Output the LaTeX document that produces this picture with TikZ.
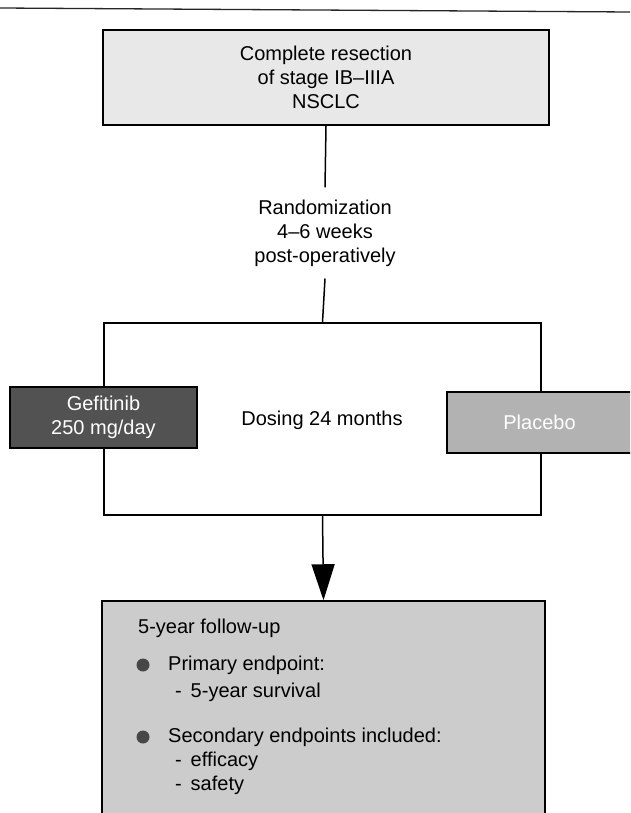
\documentclass[tikz,border=0pt]{standalone}
\usepackage{fontspec}
\setmainfont{Liberation Sans}
\usetikzlibrary{arrows.meta}
\tikzset{
  txt/.style={font=\fontsize{20}{24}\selectfont, inner sep=2pt},
  framebox/.style={draw=black, line width=1.5pt, inner sep=0pt},
  conn/.style={draw=black, line width=1.5pt},
  bul/.style={circle, fill=black!72, inner sep=0pt, minimum size=13pt}
}
\begin{document}
\begin{tikzpicture}[x=1pt,y=-1pt]
\useasboundingbox (0,0) rectangle (630,813);
\clip (0,0) rectangle (630,813);
% top rule
\coordinate (r1) at (0,8);
\coordinate (r2) at (630,12);
\draw[line width=1.3pt, black!85] (r1) -- (r2);
% top box
\node[framebox, fill=black!9, minimum width=446pt, minimum height=95pt, txt, align=center] (top) at (326,77.5)
  {Complete resection\\of stage IB--IIIA\\NSCLC};
% randomization
\node[txt, align=center, inner xsep=4pt, inner ysep=12pt] (rand) at (325,233)
  {Randomization\\4--6 weeks\\post-operatively};
% big box
\node[framebox, minimum width=437pt, minimum height=192pt] (big) at (322.5,419) {};
\node[txt] (dose) at (322,420) {Dosing 24 months};
% arms
\node[framebox, fill=black!68, text=white, minimum width=187pt, minimum height=61pt, txt, align=center] (gef) at (103.5,417.5)
  {Gefitinib\\250 mg/day};
\node[framebox, fill=black!30, text=white, minimum width=185pt, minimum height=61pt, txt] (plac) at (539.5,422.5)
  {Placebo};
% bottom box
\node[framebox, fill=black!20, minimum width=443pt, minimum height=229pt] (bot) at (323.5,715.5) {};
% connectors
\draw[conn] (top.south) -- (rand.north);
\draw[conn] (rand.south) -- (big.north);
\draw[conn, -{Triangle[length=36pt,width=23pt]}] (big.south) -- (bot.north);
% bottom text
\node[txt, anchor=west] (fu) at (136,628) {5-year follow-up};
\node[bul] (b1) at (143,665) {};
\node[txt, anchor=west] (p1) at (166,665) {Primary endpoint:};
\node[txt, anchor=west] (p2) at (173,692) {-\, 5-year survival};
\node[bul] (b2) at (143,737) {};
\node[txt, anchor=west] (s1) at (166,737) {Secondary endpoints included:};
\node[txt, anchor=west] (s2) at (173,761) {-\, efficacy};
\node[txt, anchor=west] (s3) at (173,785) {-\, safety};
\end{tikzpicture}
\end{document}
